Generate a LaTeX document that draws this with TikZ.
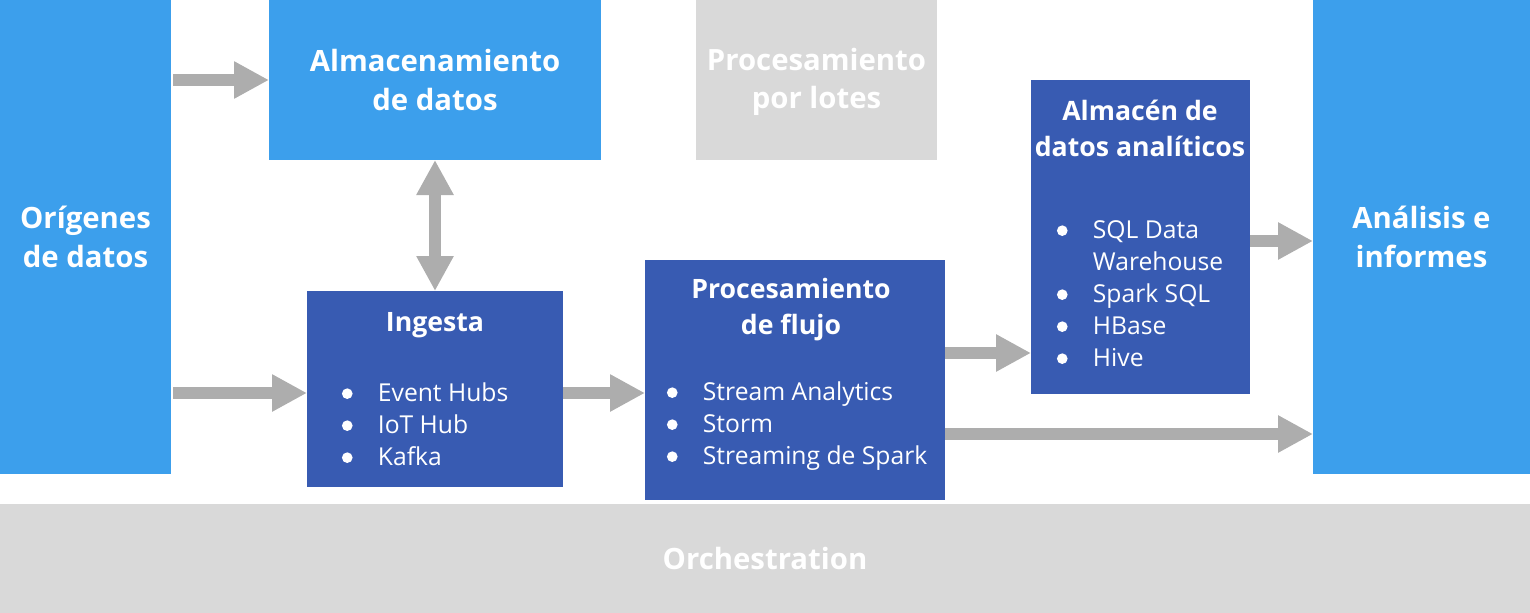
\documentclass[tikz,border=0pt]{standalone}
\usepackage{fontspec}
\setmainfont{Open Sans}
\usetikzlibrary{arrows.meta}
\definecolor{lblue}{HTML}{3C9FEC}
\definecolor{dblue}{HTML}{385BB2}
\definecolor{lgray}{HTML}{D9D9D9}
\definecolor{agray}{HTML}{ADADAD}
\newcommand{\bul}[1]{\makebox[0pt]{\tikz[x=1pt,y=1pt,baseline=-5.5pt]\fill[white] (0,0) circle [radius=4pt];}\hspace{23pt}#1}
\newcommand{\nob}[1]{\hspace{23pt}#1}
\tikzset{
 box/.style={inner sep=0pt, outer sep=0pt, draw=none, text=white, align=center,
   font=\fontsize{22pt}{29pt}\selectfont\bfseries},
 midt/.style={text=white, font=\fontsize{20pt}{27pt}\selectfont\bfseries, align=center, inner sep=0pt},
 lst/.style={text=white, font=\fontsize{18.5pt}{24pt}\selectfont, anchor=base west, inner sep=0pt},
 arr/.style={draw=agray, line width=9pt, -{Triangle[length=26.25pt,width=26.25pt]}},
 darr/.style={draw=agray, line width=9pt, {Triangle[length=26.25pt,width=26.25pt]}-{Triangle[length=26.25pt,width=26.25pt]}},
}
\begin{document}
\begin{tikzpicture}[x=0.75pt,y=-0.75pt]
\useasboundingbox (0,0) rectangle (1530,613);
% boxes
\node[box, fill=lblue, minimum width=128.25pt, minimum height=355.5pt] (orig) at (85.5,237) {Orígenes\\de datos};
\node[box, fill=lblue, minimum width=249pt, minimum height=120pt] (alm) at (435,80) {Almacenamiento\\de datos};
\node[box, fill=lgray, minimum width=180.75pt, minimum height=120pt] (lot) at (816.5,80) {};
\node[box] (lott) at (816.5,82) {Procesamiento\\por lotes};
\node[box, fill=dblue, minimum width=164.25pt, minimum height=235.5pt] (wh) at (1140.5,237) {};
\node[box, fill=lblue, minimum width=162.75pt, minimum height=355.5pt] (ana) at (1421.5,237) {Análisis e\\informes};
\node[box, fill=dblue, minimum width=192pt, minimum height=147pt] (ing) at (435,389) {};
\node[box, fill=dblue, minimum width=225pt, minimum height=180pt] (flu) at (795,380) {};
\node[box, fill=lgray, minimum width=1147.5pt, minimum height=81.75pt] (orch) at (765,558.5) {Orchestration};
% titles
\node[midt] (ingt) at (435,325) {Ingesta};
\node[midt] (flut) at (791,310) {Procesamiento\\de flujo};
\node[midt] (wht) at (1140,128) {Almacén de\\datos analíticos};
% lists
\node[lst] (ingl) at (347,401) {\begin{tabular}[t]{@{}l@{}}\bul{Event Hubs}\\\bul{IoT Hub}\\\bul{Kafka}\end{tabular}};
\node[lst] (flul) at (672,400) {\begin{tabular}[t]{@{}l@{}}\bul{Stream Analytics}\\\bul{Storm}\\\bul{Streaming de Spark}\end{tabular}};
\node[lst] (whl) at (1062,238) {\begin{tabular}[t]{@{}l@{}}\bul{SQL Data}\\\nob{Warehouse}\\\bul{Spark SQL}\\\bul{HBase}\\\bul{Hive}\end{tabular}};
% arrows
\draw[arr] ([xshift=1.5pt]orig.east |- alm.west) -- (alm.west);
\draw[arr] ([xshift=1.5pt]orig.east |- 0,393) -- (ing.west |- 0,393);
\draw[darr] (alm.south) -- (ing.north);
\draw[arr] (ing.east |- 0,393) -- (flu.west |- 0,393);
\draw[arr] (flu.east |- 0,353) -- (wh.west |- 0,353);
\draw[arr] (flu.east |- 0,434) -- (ana.west |- 0,434);
\draw[arr] (wh.east |- 0,241) -- (ana.west |- 0,241);
\end{tikzpicture}
\end{document}
